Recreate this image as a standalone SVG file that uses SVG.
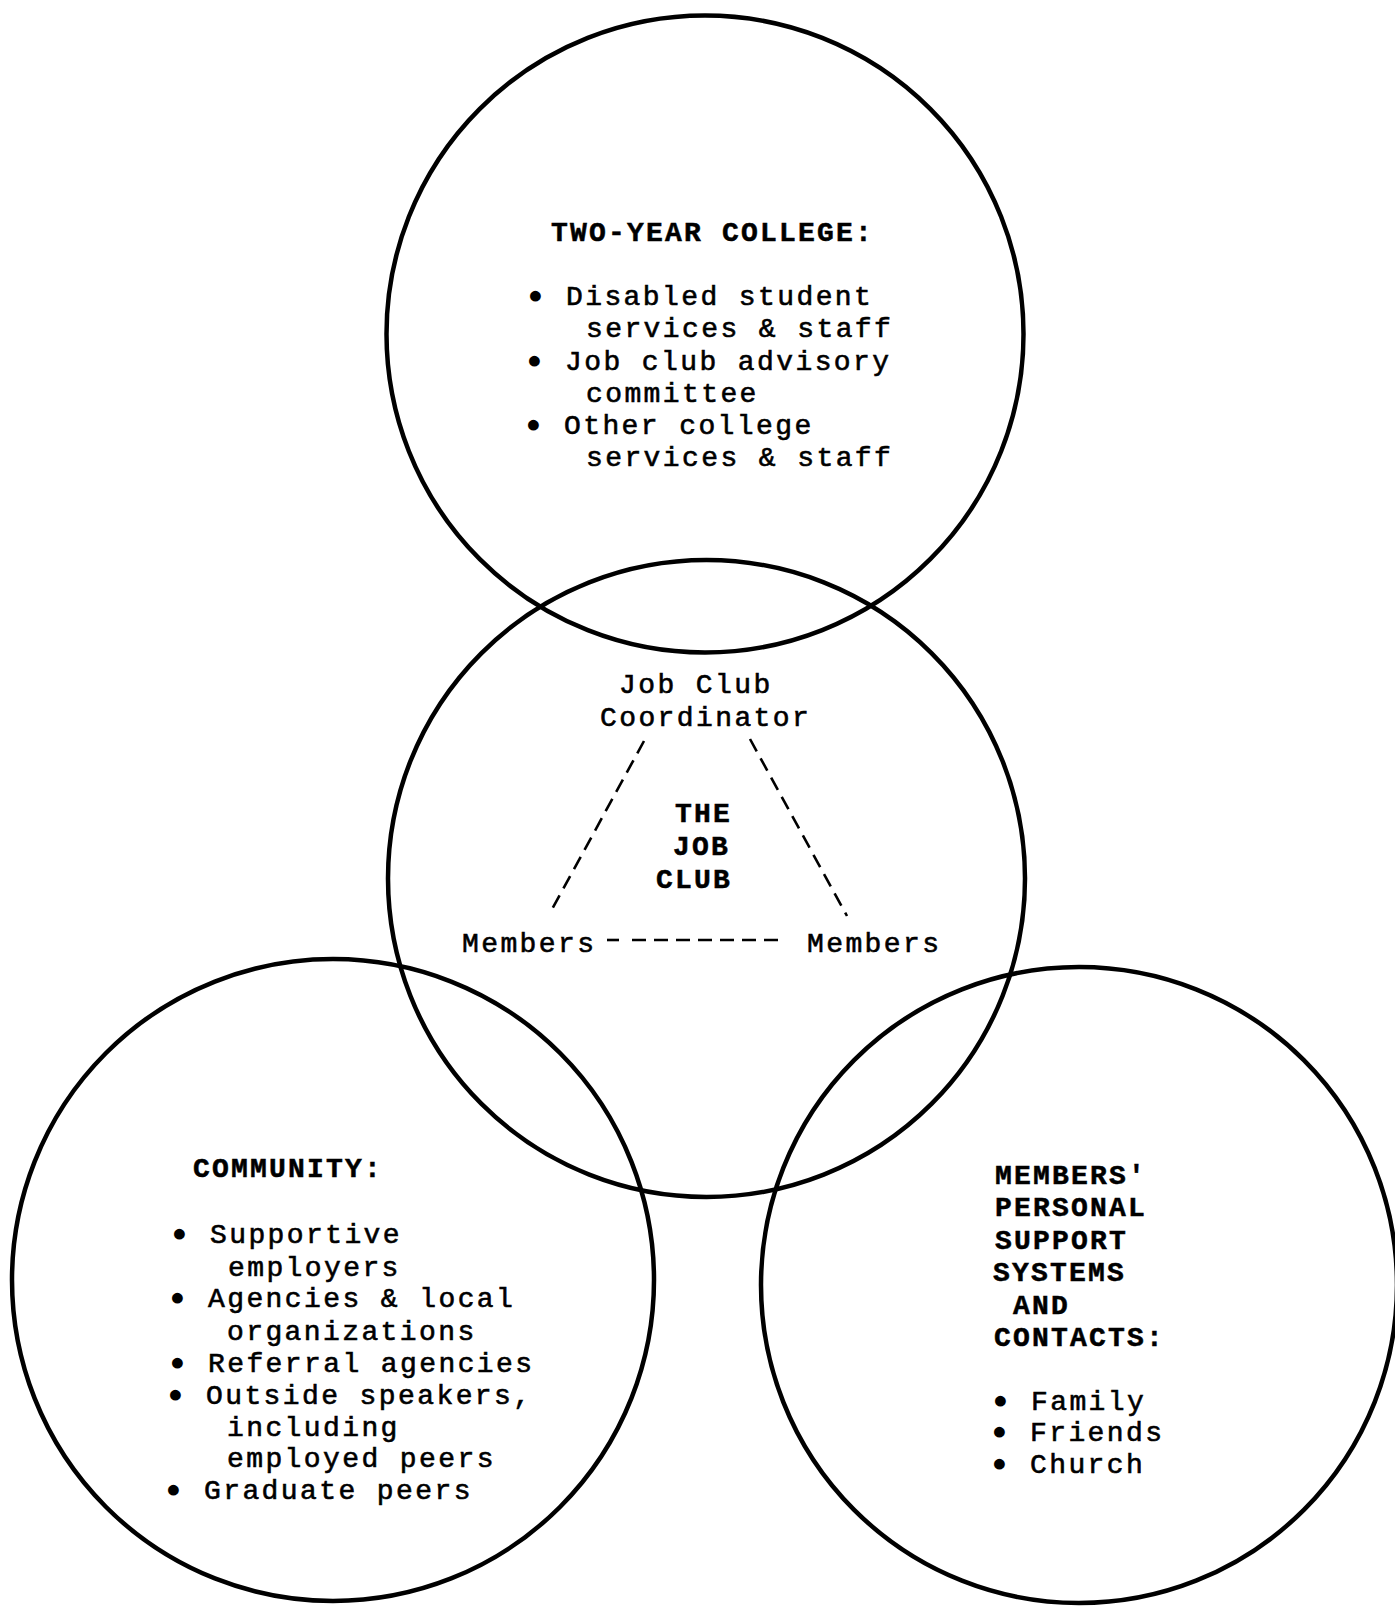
<svg xmlns="http://www.w3.org/2000/svg" width="1395" height="1608" viewBox="0 0 1395 1608">
<style>
.ring{fill:none;stroke:#000;stroke-width:4.5}
.t{font-family:"Liberation Mono","Courier New",monospace;font-size:28px;letter-spacing:2.4px;fill:#000;stroke:#000;stroke-width:0.6px}
.h{font-family:"Liberation Mono","Courier New",monospace;font-size:28px;font-weight:bold;letter-spacing:2.2px;fill:#000;stroke:#000;stroke-width:0.5px}
.b{stroke-width:3.2px;stroke-linejoin:round}
.dash{fill:none;stroke:#000;stroke-width:2.6;stroke-dasharray:14 8}
</style>
<rect width="1395" height="1608" fill="#fff"/>
<g id="node-college">
<circle class="ring" cx="705" cy="334" r="318.5"/>
<text class="h" x="551" y="241">TWO-YEAR COLLEGE:</text>
<text class="t" y="305"><tspan class="b" x="527">•</tspan><tspan x="566">Disabled student</tspan></text>
<text class="t" x="586" y="337">services &amp; staff</text>
<text class="t" y="370"><tspan class="b" x="526">•</tspan><tspan x="565">Job club advisory</tspan></text>
<text class="t" x="586" y="402">committee</text>
<text class="t" y="434"><tspan class="b" x="525">•</tspan><tspan x="564">Other college</tspan></text>
<text class="t" x="586" y="466">services &amp; staff</text>
</g>
<g id="node-jobclub">
<circle class="ring" cx="706.5" cy="878.5" r="318.5"/>
<text class="t" x="619" y="693">Job Club</text>
<text class="t" x="600" y="726">Coordinator</text>
<text class="h" x="675" y="822">THE</text>
<text class="h" x="673" y="855">JOB</text>
<text class="h" x="656" y="888">CLUB</text>
</g>
<g id="node-members-left">
<text class="t" x="462" y="952">Members</text>
</g>
<g id="node-members-right">
<text class="t" x="807" y="952">Members</text>
</g>
<g id="node-community">
<circle class="ring" cx="333" cy="1280" r="321"/>
<text class="h" x="193" y="1177">COMMUNITY:</text>
<text class="t" y="1243"><tspan class="b" x="171">•</tspan><tspan x="210">Supportive</tspan></text>
<text class="t" x="228" y="1276">employers</text>
<text class="t" y="1307"><tspan class="b" x="169">•</tspan><tspan x="208">Agencies &amp; local</tspan></text>
<text class="t" x="227" y="1340">organizations</text>
<text class="t" y="1372"><tspan class="b" x="169">•</tspan><tspan x="208">Referral agencies</tspan></text>
<text class="t" y="1404"><tspan class="b" x="167">•</tspan><tspan x="206">Outside speakers,</tspan></text>
<text class="t" x="227" y="1436">including</text>
<text class="t" x="227" y="1467">employed peers</text>
<text class="t" y="1499"><tspan class="b" x="165">•</tspan><tspan x="204">Graduate peers</tspan></text>
</g>
<g id="node-personal">
<circle class="ring" cx="1079" cy="1285" r="318"/>
<text class="h" x="995" y="1184">MEMBERS'</text>
<text class="h" x="995" y="1216">PERSONAL</text>
<text class="h" x="995" y="1249">SUPPORT</text>
<text class="h" x="993" y="1281">SYSTEMS</text>
<text class="h" x="1013" y="1314">AND</text>
<text class="h" x="994" y="1346">CONTACTS:</text>
<text class="t" y="1410"><tspan class="b" x="992">•</tspan><tspan x="1031">Family</tspan></text>
<text class="t" y="1441"><tspan class="b" x="991">•</tspan><tspan x="1030">Friends</tspan></text>
<text class="t" y="1473"><tspan class="b" x="991">•</tspan><tspan x="1030">Church</tspan></text>
</g>
<g id="connectors">
<line class="dash" x1="644" y1="741" x2="550" y2="913"/>
<line class="dash" x1="750" y1="739" x2="847" y2="916"/>
<line class="dash" x1="607" y1="940" x2="619" y2="940"/>
<line class="dash" x1="632" y1="940" x2="785" y2="940"/>
</g>
</svg>
